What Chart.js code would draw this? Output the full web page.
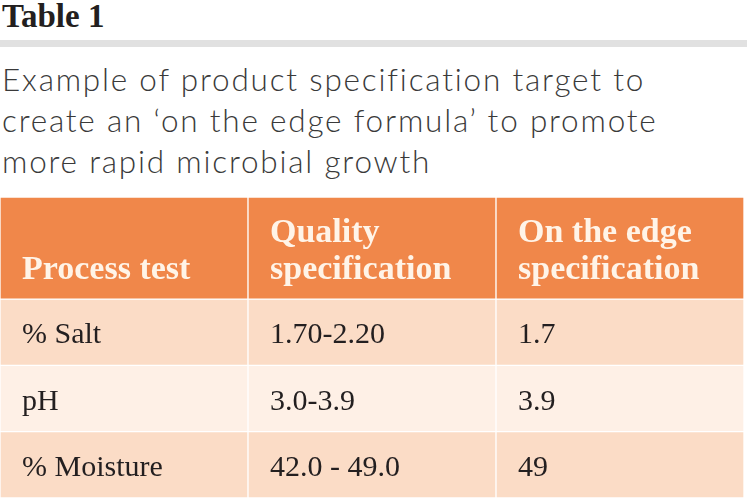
<!DOCTYPE html>
<html lang="en">
<head>
    <meta charset="UTF-8">
    <title>Table 1</title>
    <script src="https://cdn.jsdelivr.net/npm/chart.js"></script>
    <style>
        body { margin: 0; width: 747px; height: 500px; background: #fff; position: relative; overflow: hidden; }
        #title { position: absolute; left: 2px; top: 0; font: bold 33px "Liberation Serif", serif; line-height: 33px; color: #231f20; }
        #rule { position: absolute; left: 0; top: 40px; width: 747px; height: 7px; background: #e1e1e1; }
        #subtitle { position: absolute; left: 2px; top: 59px; font: 300 31.5px Lato, sans-serif; letter-spacing: 1.8px; line-height: 41px; color: #3a3a3a; }
        #wrap { position: absolute; left: 0; top: 197px; width: 747px; height: 301px; }
    </style>
</head>
<body>
    <div id="title">Table 1</div>
    <div id="rule"></div>
    <div id="subtitle">Example of product specification target to<br>create an ‘on the edge formula’ to promote<br>more rapid microbial growth</div>
    <div id="wrap"><canvas id="table"></canvas></div>

    <script>
        // table content
        const columns = ['Process test', 'Quality\nspecification', 'On the edge\nspecification'];
        const processTests = ['% Salt', 'pH', '% Moisture'];
        const qualitySpec = ['1.70-2.20', '3.0-3.9', '42.0 - 49.0'];
        const edgeSpec = ['1.7', '3.9', '49'];

        const headerWeight = 1.54;   // header row is taller than the body rows
        const rowColors = ['#fbdcc6', '#fef0e6', '#fbdcc6'];

        const rows = processTests.map((p, i) => [p, qualitySpec[i], edgeSpec[i]]);

        const datasets = [{
            label: 'header',
            data: columns.map(() => headerWeight),
            backgroundColor: '#f0874a',
            cellText: columns,
            header: true
        }].concat(rows.map((r, i) => ({
            label: 'row' + i,
            data: r.map(() => 1),
            backgroundColor: rowColors[i],
            cellText: r
        })));

        const cellText = {
            id: 'cellText',
            afterDatasetsDraw(chart) {
                const ctx = chart.ctx;
                ctx.save();
                ctx.textAlign = 'left';
                ctx.textBaseline = 'alphabetic';
                chart.data.datasets.forEach((ds, i) => {
                    chart.getDatasetMeta(i).data.forEach((bar, j) => {
                        const p = bar.getProps(['x', 'y', 'base', 'width'], true);
                        const left = p.x - p.width / 2;
                        const top = Math.min(p.y, p.base);
                        const bottom = Math.max(p.y, p.base);
                        if (ds.header) {
                            ctx.font = 'bold 34px "Liberation Serif", serif';
                            ctx.fillStyle = '#fff4e8';
                            const lines = ds.cellText[j].split('\n');
                            lines.forEach((t, k) => {
                                ctx.fillText(t, left + 22, bottom - 20 - (lines.length - 1 - k) * 37);
                            });
                        } else {
                            ctx.font = '30px "Liberation Serif", serif';
                            ctx.fillStyle = '#231f20';
                            ctx.fillText(ds.cellText[j], left + 22, (top + bottom) / 2 + 11);
                        }
                    });
                });
                ctx.restore();
            }
        };

        new Chart(document.getElementById('table'), {
            type: 'bar',
            data: { labels: columns, datasets: datasets },
            options: {
                responsive: true,
                maintainAspectRatio: false,
                animation: false,
                layout: { padding: { right: 3 } },
                datasets: {
                    bar: {
                        categoryPercentage: 1,
                        barPercentage: 1,
                        borderWidth: 1,
                        borderColor: '#ffffff',
                        borderSkipped: false
                    }
                },
                scales: {
                    x: { stacked: true, display: false },
                    y: { stacked: true, display: false, reverse: true, min: 0, max: headerWeight + rows.length }
                },
                plugins: {
                    legend: { display: false },
                    tooltip: { enabled: false }
                }
            },
            plugins: [cellText]
        });
    </script>
</body>
</html>
